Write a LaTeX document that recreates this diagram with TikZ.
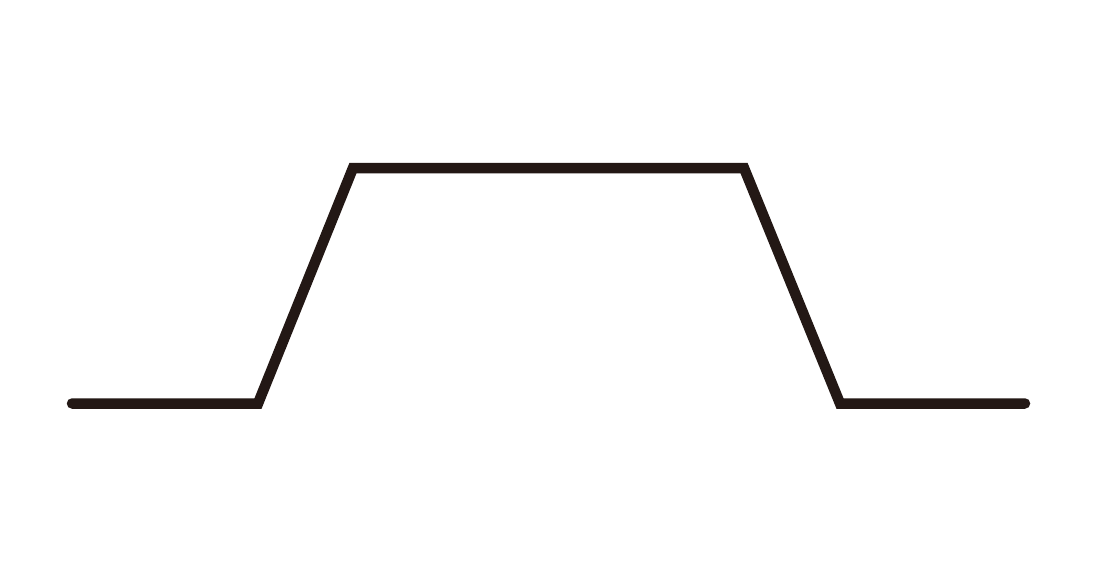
\documentclass[tikz,border=0pt]{standalone}
\definecolor{ink}{HTML}{231815}
\tikzset{pulse/.style={draw=ink,line width=10.5pt,line cap=round,line join=miter}}
\begin{document}
\begin{tikzpicture}[x=1pt,y=-1pt]
\useasboundingbox[fill=white] (0,0) rectangle (1096,568);
\coordinate (a) at (72,403.5);
\coordinate (b) at (258,403.5);
\coordinate (c) at (353,168);
\coordinate (d) at (744,168);
\coordinate (e) at (840,403.5);
\coordinate (f) at (1025,403.5);
\draw[pulse] (a) -- (b) -- (c) -- (d) -- (e) -- (f);
\end{tikzpicture}
\end{document}
